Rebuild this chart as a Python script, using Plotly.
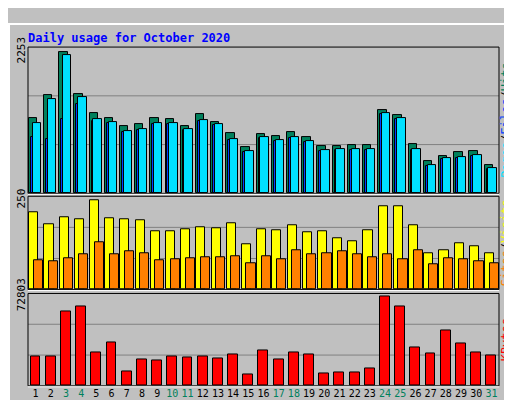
import plotly.graph_objects as go

days = list(range(1, 32))
hits = [1204,1558,2253,1589,1281,1204,1065,1096,1204,1188,1065,1265,1142,957,741,941,910,972,895,756,756,772,772,1327,1250,787,509,602,663,679,447]
files = [1126,1497,2206,1528,1188,1142,988,1018,1126,1126,1018,1173,1096,864,679,895,849,895,833,694,710,710,710,1281,1204,710,447,555,586,617,401]
pages = [895,864,1188,1420,1157,1126,975,1003,1110,1110,1003,1157,1080,849,664,880,834,880,818,679,694,694,694,1265,1188,694,432,540,570,601,386]
visits = [215,182,201,196,250,199,196,193,163,163,169,174,171,185,128,169,166,180,160,163,144,136,166,234,234,180,103,109,131,122,103]
sites = [82,79,87,98,133,98,106,101,82,84,87,90,90,92,73,92,84,109,98,103,106,98,90,98,84,109,71,87,84,79,73]
kbytes = [23730,23730,60907,64862,26894,35595,11865,21357,20566,23730,22939,23730,22148,25312,9492,28476,21357,26894,25312,10283,11074,11074,14238,72803,64862,30849,26103,45087,34804,26894,24521]
weekends = [3,4,10,11,17,18,24,25,31]
max_labels = ["2253", "250", "72803"]

MONO = "DejaVu Sans Mono"
fig = go.Figure()
line = dict(color="black", width=1)
fig.add_bar(x=days, y=hits, width=0.55, offset=-0.45, marker=dict(color="#00805c", line=line), xaxis="x", yaxis="y")
fig.add_bar(x=days, y=pages, width=0.2, offset=-0.32, marker=dict(color="#0040ff", line=line), xaxis="x", yaxis="y")
fig.add_bar(x=days, y=files, width=0.55, offset=-0.2, marker=dict(color="#00e0ff", line=line), xaxis="x", yaxis="y")
fig.add_bar(x=days, y=visits, width=0.6, offset=-0.42, marker=dict(color="#ffff00", line=line), xaxis="x2", yaxis="y2")
fig.add_bar(x=days, y=sites, width=0.6, offset=-0.12, marker=dict(color="#ff8000", line=line), xaxis="x2", yaxis="y2")
fig.add_bar(x=days, y=kbytes, width=0.65, offset=-0.33, marker=dict(color="#ff0000", line=line), xaxis="x3", yaxis="y3")

ticktext = [f'<span style="color:#00805c">{d}</span>' if d in weekends else str(d) for d in days]
xcommon = dict(range=[0.5, 31.5], domain=[20/512, 491/512], showgrid=False, zeroline=False, fixedrange=True)
tops = [2330, 261, 75150]
maxv = [max(hits), max(visits), max(kbytes)]
doms = [[1-177/400, 1-25/400], [1-277/400, 1-180/400], [1-377/400, 1-281/400]]
titles = [
    '<span style="color:#00e0ff">Pages</span>/<span style="color:#0040ff">Files</span>/<span style="color:#00805c">Hits</span>',
    '<span style="color:#ff8000">Sites</span>/<span style="color:#ffff00">Visits</span>',
    '<span style="color:#ff0000">KBytes</span>',
]
lay = dict(
    width=512, height=400, margin=dict(l=0, r=0, t=0, b=0), showlegend=False,
    paper_bgcolor="#c0c0c0", plot_bgcolor="#c0c0c0", barmode="overlay", bargap=0,
    font=dict(family=MONO, size=12, color="black"),
    xaxis=dict(**xcommon, anchor="y", showticklabels=False),
    xaxis2=dict(**xcommon, anchor="y2", showticklabels=False),
    xaxis3=dict(**xcommon, anchor="y3", tickvals=days, ticktext=ticktext, ticks="", tickangle=0,
                tickfont=dict(size=10, family=MONO)),
)
for i in range(3):
    n = "" if i == 0 else str(i + 1)
    lay["yaxis" + n] = dict(range=[0, tops[i]], domain=doms[i], anchor="x" + n, showgrid=False, zeroline=False,
                            tickvals=[maxv[i]], ticktext=[max_labels[i]], tickangle=-90, ticks="",
                            tickfont=dict(size=11, family=MONO), ticklabelstandoff=0)
    lay["yaxis" + str(i + 4)] = dict(range=[0, tops[i]], domain=doms[i], overlaying="y" + n, side="right",
                                     anchor="x" + n, showgrid=False, zeroline=False, showticklabels=False,
                                     title=dict(text=titles[i], standoff=2, font=dict(size=12, family=MONO)))
fig.update_layout(**lay)
for i in range(3):
    fig.add_scatter(x=[None], y=[None], xaxis="x" + ("" if i == 0 else str(i + 1)), yaxis="y" + str(i + 4))

shapes = [
    dict(type="rect", xref="paper", yref="paper", x0=1/512, y0=1/400, x1=511/512, y1=399/400, line=dict(color="white", width=2)),
    dict(type="line", xref="paper", yref="paper", x0=1/512, y0=2/400, x1=511/512, y1=2/400, line=dict(color="#808080", width=3)),
    dict(type="line", xref="paper", yref="paper", x0=510/512, y0=2/400, x1=510/512, y1=399/400, line=dict(color="#808080", width=3)),
]
for i in range(3):
    yr = "y" if i == 0 else "y" + str(i + 1)
    for f in (1/3, 2/3):
        shapes.append(dict(type="line", xref="paper", yref=yr, x0=20/512, x1=491/512, y0=tops[i]*f, y1=tops[i]*f,
                           line=dict(color="#808080", width=1), layer="below"))
for y0, y1 in [(25, 177), (180, 277), (281, 377)]:
    shapes.append(dict(type="rect", xref="paper", yref="paper", x0=20/512, x1=491/512, y0=1-y1/400, y1=1-y0/400,
                       line=dict(color="black", width=1)))
    shapes.append(dict(type="line", xref="paper", yref="paper", x0=20/512, x1=491/512, y0=1-(y1+1)/400, y1=1-(y1+1)/400,
                       line=dict(color="white", width=1)))
fig.update_layout(shapes=shapes)
fig.update_layout(annotations=[
    dict(x=18/512, y=1-6/400, xref="paper", yref="paper", showarrow=False, xanchor="left", yanchor="top",
         text="<b>Daily usage for October 2020</b>", font=dict(color="#0000ff", size=12, family=MONO)),
])
fig.write_html("out.html")
